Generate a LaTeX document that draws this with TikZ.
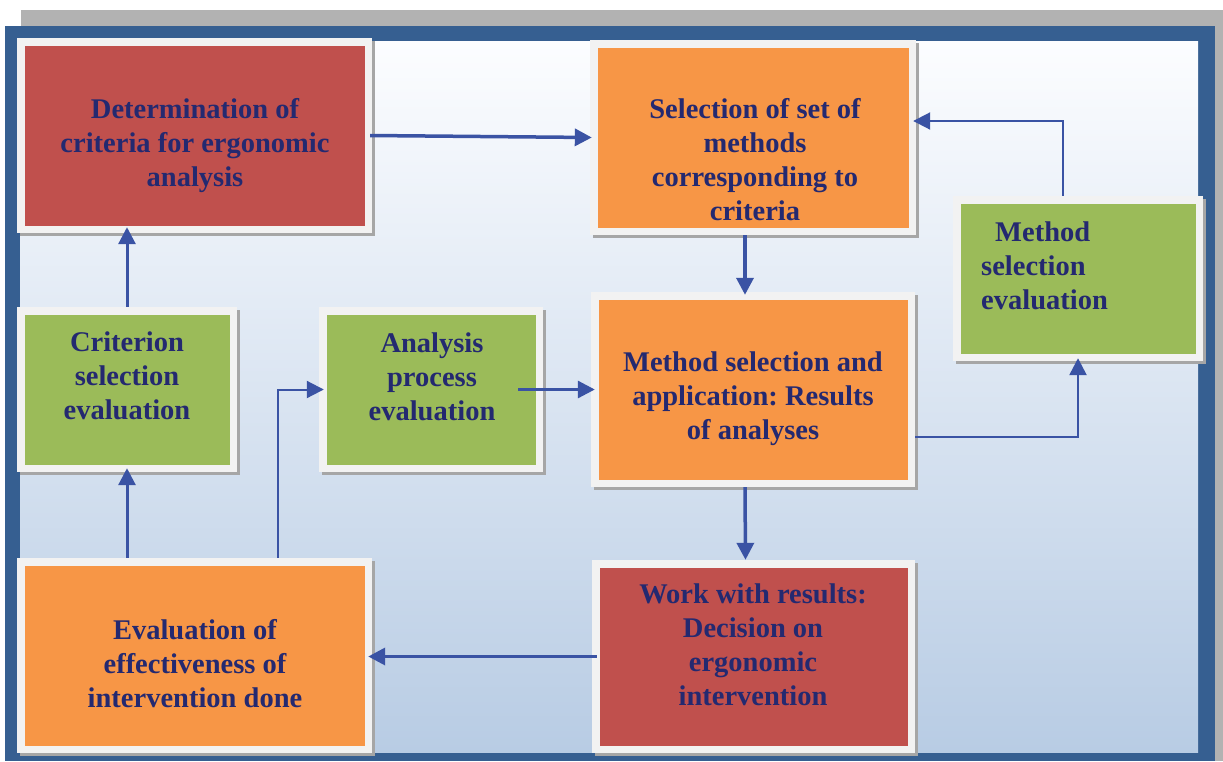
\documentclass[tikz,border=0pt]{standalone}
\usepackage{fontspec}
\setmainfont{Liberation Serif}
\usepackage{tikz}
\usetikzlibrary{arrows.meta}
\usetikzlibrary{positioning}
\usetikzlibrary{shadows}
\frenchspacing
\definecolor{frameblue}{RGB}{54,95,145}
\definecolor{linkblue}{RGB}{58,83,164}
\definecolor{navytext}{RGB}{36,41,112}
\definecolor{boxred}{RGB}{192,80,77}
\definecolor{boxorange}{RGB}{247,150,70}
\definecolor{boxgreen}{RGB}{155,187,89}
\definecolor{rimgray}{RGB}{242,242,242}
\definecolor{skytop}{RGB}{252,253,255}
\definecolor{skybottom}{RGB}{184,204,228}
\tikzset{
  box/.style={fill=rimgray,inner sep=0pt,
    drop shadow={shadow xshift=3pt,shadow yshift=-3pt,fill=gray!70,opacity=1},
    path picture={\fill[#1] ([shift={(7.5pt,7.5pt)}]path picture bounding box.south west)
      rectangle ([shift={(-7.5pt,-7.5pt)}]path picture bounding box.north east);}},
  txt/.style={text=navytext,font=\fontsize{28.5}{34}\selectfont\bfseries,align=center,inner sep=0pt},
  link/.style={draw=linkblue,line width=3.5pt,-{Triangle[length=17pt,width=17pt]}},
  thinlink/.style={link,line width=2pt}
}

\begin{document}
\begin{tikzpicture}[line cap=butt,line join=miter,x=1pt,y=-1pt]
\useasboundingbox (0,0) rectangle (1223,761);
\fill[gray!60] (21,10) rectangle (1223,761);
\fill[frameblue] (5,26) rectangle (1215,761);
\shade[top color=skytop,bottom color=skybottom] (20,41) rectangle (1198,752);

\node[box=boxred,minimum width=355pt,minimum height=195pt] (det) at (194.5,135.5) {};
\node[box=boxorange,minimum width=326pt,minimum height=195pt] (sel) at (753,137.5) {};
\node[box=boxgreen,minimum width=250pt,minimum height=165pt] (mse) at (1078,278.5) {};
\node[box=boxgreen,minimum width=220pt,minimum height=165pt] (crit) at (127,389.5) {};
\node[box=boxgreen,minimum width=224pt,minimum height=165pt] (ape) at (431,389.5) {};
\node[box=boxorange,minimum width=324pt,minimum height=195pt] (app) at (753,389.5) {};
\node[box=boxred,minimum width=323pt,minimum height=193pt] (work) at (753.5,656.5) {};
\node[box=boxorange,minimum width=355pt,minimum height=195pt] (eval) at (194.5,655.5) {};

\node[txt] (det-text) at (195,145.5) {Determination of\\criteria for ergonomic\\analysis};
\node[txt] (sel-text) at (755,160) {Selection of set of\\methods\\corresponding to\\criteria};
\node[txt,align=left,anchor=west] (mse-text) at (981,265.5) {\hspace*{14pt}Method\\selection\\evaluation};
\node[txt] (crit-text) at (127,375.5) {Criterion\\selection\\evaluation};
\node[txt] (ape-text) at (432,376.5) {Analysis\\process\\evaluation};
\node[txt] (app-text) at (753,399) {Method selection and\\application: Results\\of analyses};
\node[txt] (work-text) at (753,644.5) {Work with results:\\Decision on\\ergonomic\\intervention};
\node[txt] (eval-text) at (195,663.5) {Evaluation of\\effectiveness of\\intervention done};

\draw[link] ([xshift=-2pt]det.east) -- ([xshift=2pt]sel.west);
\draw[link] ([xshift=-8pt]sel.south) -- ([xshift=-8pt,yshift=-3pt]app.north);
\draw[thinlink] ([xshift=-15pt]mse.north) |- ([yshift=16.5pt,xshift=-3pt]sel.east);
\draw[thinlink,line width=2.5pt] ([yshift=-47.5pt]app.east) -| ([yshift=3pt]mse.south);
\draw[link] ([xshift=-8pt]app.south) -- ([xshift=-8pt]work.north);
\draw[link] ([xshift=5pt]work.west) -- ([xshift=-4pt]work.west -| eval.east);
\draw[thinlink] ([xshift=83.5pt]eval.north) |- ([xshift=5pt]ape.west);
\draw[link,line width=3pt] (eval.north -| crit.south) -- ([yshift=4pt]crit.south);
\draw[link,line width=3pt] (crit.north) -- ([yshift=6pt]crit.north |- det.south);
\draw[link,line width=3pt] ([xshift=-25pt]ape.east) -- ([xshift=4pt]app.west);
\end{tikzpicture}
\end{document}
